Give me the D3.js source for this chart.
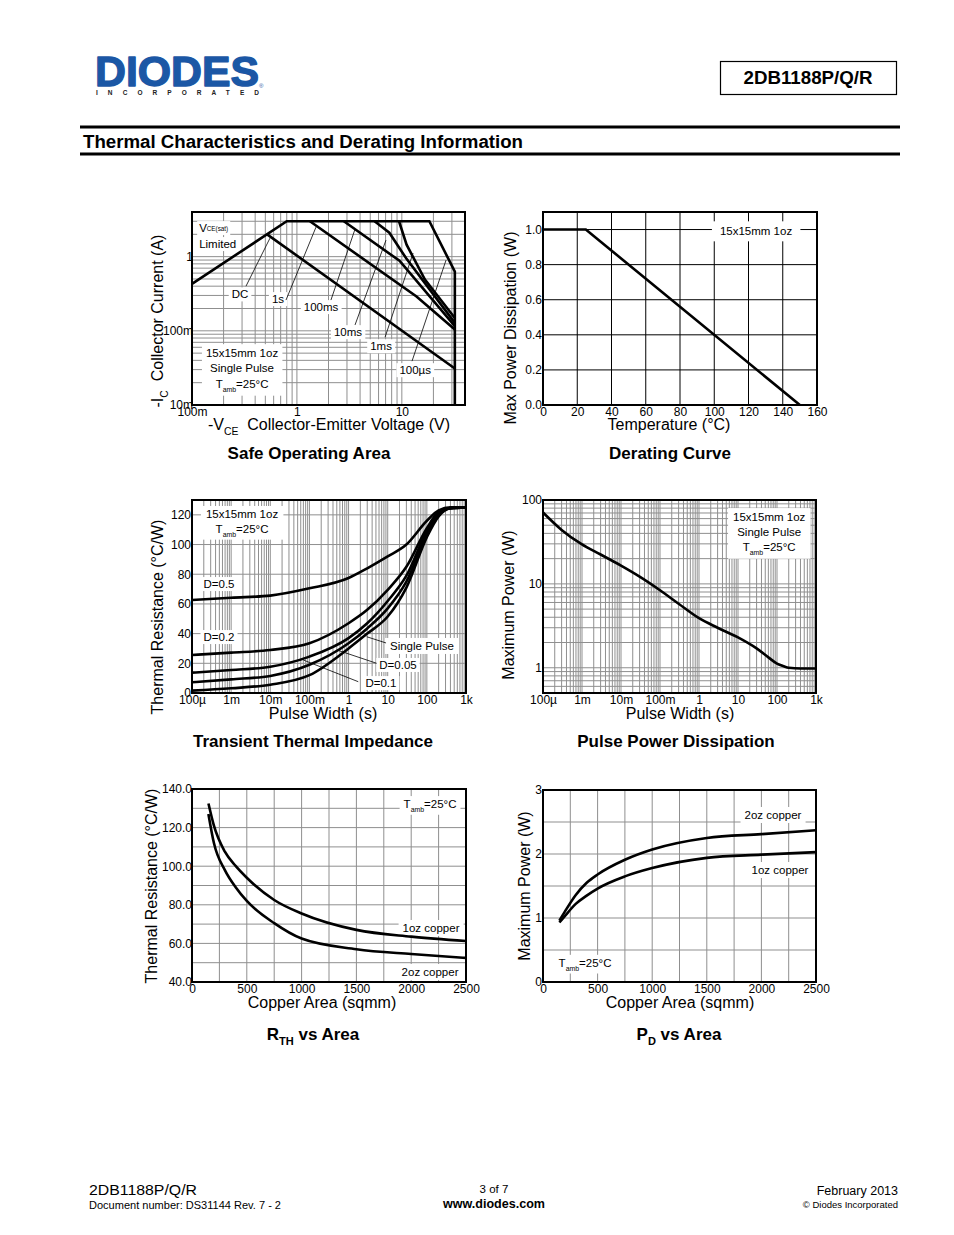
<!DOCTYPE html>
<html><head><meta charset="utf-8">
<script src="https://cdn.jsdelivr.net/npm/d3@7"></script>
<style>
body{margin:0;background:#fff;}
svg text{font-family:'Liberation Sans',Arial,Helvetica,sans-serif;}
</style></head><body>
<script>
// ---------------- DATA ----------------
// Safe Operating Area (V, A)
const soaXTickVals = [0.1, 1, 10];
const soaXTickLabels = ["100m", "1", "10"];
const soaYTickVals = [0.01, 0.1, 1];
const soaYTickLabels = ["10m", "100m", "1"];
const soaLimitV = [0.1, 0.8, 18.3, 32, 32];
const soaLimitI = [0.43, 3, 3, 0.63, 0.01];
const soaDcV = [0.52, 32];
const soaDcI = [2.0, 0.031];
const soa1sV = [1.33, 13.8, 32];
const soa1sI = [3, 0.29, 0.104];
const soa100msV = [2.8, 9.5, 32];
const soa100msI = [3, 0.88, 0.116];
const soa10msV = [5.5, 7.6, 11, 32];
const soa10msI = [3, 2.1, 0.95, 0.128];
const soa1msV = [9.4, 11.1, 16.6, 32];
const soa1msI = [3, 1.45, 0.49, 0.149];

// Derating curve
const derTickX = [0, 20, 40, 60, 80, 100, 120, 140, 160];
const derTickY = [0.0, 0.2, 0.4, 0.6, 0.8, 1.0];
const derTemp = [0, 25, 150];
const derPower = [1.0, 1.0, 0.0];

// Transient thermal impedance
const pwTickVals = [1e-4, 1e-3, 1e-2, 1e-1, 1, 10, 100, 1000];
const pwTickLabels = ["100\u00b5", "1m", "10m", "100m", "1", "10", "100", "1k"];
const ttiTickY = [0, 20, 40, 60, 80, 100, 120];
const ttiTime = [1e-4, 1e-3, 1e-2, 0.1, 1, 3, 10, 30, 100, 200, 400, 1000];
const ttiSingle = [1.6, 3.2, 5.6, 12, 30, 40, 51.5, 71, 105, 119, 124.5, 125];
const ttiD005 = [7.2, 9.2, 11.5, 19, 33.5, 43.5, 57, 75, 107, 120, 124.5, 125];
const ttiD01 = [13.7, 15.5, 17.7, 24.5, 37, 47, 62, 79, 109, 121, 124.5, 125];
const ttiD02 = [25.6, 27.2, 29, 33.5, 47, 56, 69.5, 85, 111, 122, 124.5, 125];
const ttiD05 = [62.6, 64.2, 65.6, 70.5, 77.5, 84, 92, 100, 116, 123, 125, 125];

// Pulse power dissipation
const ppYTickVals = [1, 10, 100];
const ppYTickLabels = ["1", "10", "100"];
const ppTime = [1e-4, 3e-4, 1e-3, 3e-3, 1e-2, 3e-2, 0.1, 0.3, 1, 3, 10, 30, 60, 100, 150, 200, 400, 1000];
const ppPower = [71, 44, 29.5, 22.4, 16.5, 12.2, 8.4, 5.8, 3.9, 3.0, 2.3, 1.7, 1.33, 1.12, 1.04, 1.0, 0.98, 0.98];

// R_TH vs area
const areaTicks = [0, 500, 1000, 1500, 2000, 2500];
const rthTickY = [40, 60, 80, 100, 120, 140];
const rthArea = [150, 200, 300, 400, 500, 750, 1000, 1500, 2000, 2500];
const rth1oz = [132.5, 121, 107.5, 100, 94, 82.5, 75.5, 67, 63.5, 61.2];
const rth2oz = [127, 112, 98, 89, 82, 70.5, 62.5, 57, 54.5, 52.5];

// P_D vs area
const pdTickY = [0, 1, 2, 3];
const pdArea = [150, 200, 300, 400, 500, 750, 1000, 1500, 2000, 2500];
const pd2oz = [0.96, 1.1, 1.36, 1.55, 1.68, 1.91, 2.07, 2.25, 2.31, 2.37];
const pd1oz = [0.93, 1.03, 1.22, 1.35, 1.46, 1.65, 1.78, 1.94, 1.99, 2.03];

// ---------------- HELPERS ----------------
const svg = d3.select("body").append("svg").attr("width", 954).attr("height", 1235);
svg.append("rect").attr("width", 954).attr("height", 1235).attr("fill", "#fff");

function addText(g, x, y, parts, o = {}) {
  const size = o.size || 12;
  const t = g.append("text").attr("x", x).attr("y", y).attr("font-size", size)
    .attr("text-anchor", o.anchor || "middle").attr("fill", o.fill || "#000");
  if (o.weight) t.attr("font-weight", o.weight);
  if (o.rotate) t.attr("transform", `rotate(${o.rotate},${x},${y})`);
  let shift = 0;
  (Array.isArray(parts) ? parts : [parts]).forEach(p => {
    if (typeof p === "string" || p.t !== undefined) {
      const ts = t.append("tspan").text(typeof p === "string" ? p : p.t);
      if (p.dx) ts.attr("dx", p.dx);
      if (shift) { ts.attr("dy", -shift); shift = 0; }
    } else {
      const d = p.dy != null ? p.dy : size * 0.32;
      const ts = t.append("tspan").text(p.sub).attr("font-size", size * (p.scale || 0.6)).attr("dy", d);
      if (p.dx) ts.attr("dx", p.dx);
      shift = d;
    }
  });
  return t;
}
function bgBox(g, texts, padX, padY) {
  const bbs = texts.map(t => t.node().getBBox());
  const x0 = d3.min(bbs, b => b.x) - padX, x1 = d3.max(bbs, b => b.x + b.width) + padX;
  const y0 = d3.min(bbs, b => b.y) - padY, y1 = d3.max(bbs, b => b.y + b.height) + padY;
  g.insert("rect", () => texts[0].node()).attr("x", x0).attr("y", y0)
    .attr("width", x1 - x0).attr("height", y1 - y0).attr("fill", "#fff");
}
function logGrid(lo, hi) {
  const out = [];
  for (let e = Math.floor(Math.log10(lo)); e <= Math.ceil(Math.log10(hi)); e++)
    for (let k = 1; k <= 9; k++) {
      const v = k * Math.pow(10, e);
      if (v >= lo * 0.999 && v <= hi * 1.001) out.push(v);
    }
  return out;
}
function grid(g, x, y, xs, ys, color, w) {
  const [x0, x1] = x.range(), [yb, yt] = y.range();
  const gg = g.append("g");
  gg.selectAll("line.v").data(xs).join("line").attr("class", "v")
    .attr("x1", d => x(d)).attr("x2", d => x(d)).attr("y1", yt).attr("y2", yb)
    .attr("stroke", color).attr("stroke-width", w);
  gg.selectAll("line.h").data(ys).join("line").attr("class", "h")
    .attr("x1", x0).attr("x2", x1).attr("y1", d => y(d)).attr("y2", d => y(d))
    .attr("stroke", color).attr("stroke-width", w);
}
function frame(g, x, y) {
  const [x0, x1] = x.range(), [yb, yt] = y.range();
  g.append("rect").attr("x", x0).attr("y", yt).attr("width", x1 - x0).attr("height", yb - yt)
    .attr("fill", "none").attr("stroke", "#000").attr("stroke-width", 2);
}
function axes(g, x, y, xv, xl, yv, yl, xpad, ypad, size) {
  const [yb] = y.range(), [x0] = x.range();
  const ax = g.append("g").attr("transform", `translate(0,${yb})`)
    .call(d3.axisBottom(x).tickValues(xv).tickFormat((d, i) => xl[i]).tickSize(0).tickPadding(xpad));
  const ay = g.append("g").attr("transform", `translate(${x0},0)`)
    .call(d3.axisLeft(y).tickValues(yv).tickFormat((d, i) => yl[i]).tickSize(0).tickPadding(ypad));
  [ax, ay].forEach(a => {
    a.select(".domain").remove();
    a.attr("font-family", null).attr("font-size", null);
    a.selectAll("text").attr("font-size", size || 12).attr("fill", "#000");
  });
}
function curve(g, x, y, xs, ys, w, smooth) {
  const ln = d3.line().x(d => x(d[0])).y(d => y(d[1]));
  if (smooth) ln.curve(d3.curveMonotoneX);
  g.append("path").datum(d3.zip(xs, ys)).attr("d", ln).attr("fill", "none")
    .attr("stroke", "#000").attr("stroke-width", w || 2.5).attr("stroke-linejoin", "miter");
}
function leader(g, x, y, a, b) {
  g.append("line").attr("x1", x(a[0])).attr("y1", y(a[1])).attr("x2", x(b[0])).attr("y2", y(b[1]))
    .attr("stroke", "#000").attr("stroke-width", 0.8);
}
function boxLabel(g, x, y, items, size, padX, padY, anchor) {
  const ts = items.map(it => addText(g, x(it[0]), y(it[1]) + size * 0.35, it[2], { size, anchor: anchor || "middle" }));
  bgBox(g, ts, padX, padY);
  return ts;
}
const fmt = v => String(v);

// ---------------- HEADER ----------------
addText(svg, 95, 86, "DIODES", { size: 43, anchor: "start", fill: "#1b57a5", weight: "bold" })
  .attr("textLength", 164).attr("lengthAdjust", "spacingAndGlyphs")
  .attr("stroke", "#1b57a5").attr("stroke-width", 1.4).attr("stroke-linejoin", "round");
addText(svg, 259, 88, "\u00ae", { size: 6, anchor: "start", fill: "#1b57a5" });
addText(svg, 96, 95, "INCORPORATED", { size: 6.5, anchor: "start", fill: "#222", weight: "bold" })
  .attr("textLength", 163).attr("lengthAdjust", "spacing");
svg.append("rect").attr("x", 720.5).attr("y", 61.5).attr("width", 176).attr("height", 33)
  .attr("fill", "none").attr("stroke", "#000").attr("stroke-width", 1.2);
addText(svg, 808, 84, "2DB1188P/Q/R", { size: 18, weight: "bold" })
  .attr("textLength", 129).attr("lengthAdjust", "spacingAndGlyphs");
svg.append("rect").attr("x", 80).attr("y", 125.5).attr("width", 820).attr("height", 3).attr("fill", "#000");
svg.append("rect").attr("x", 80).attr("y", 152.5).attr("width", 820).attr("height", 3).attr("fill", "#000");
addText(svg, 83, 147.5, "Thermal Characteristics and Derating Information", { size: 18, anchor: "start", weight: "bold" })
  .attr("textLength", 440).attr("lengthAdjust", "spacingAndGlyphs");

// ---------------- SOA ----------------
{
  const g = svg.append("g");
  const x = d3.scaleLog().domain([0.1, 40]).range([192, 465]);
  const y = d3.scaleLog().domain([0.01, 4]).range([405, 212]);
  grid(g, x, y, logGrid(0.1, 40), logGrid(0.01, 4), "#8f8f8f", 1);
  boxLabel(g, x, y, [[0.117, 2.43, ["V", { sub: "CE(sat)", dy: -1, scale: 0.55 }]]], 11.5, 2, 1, "start");
  boxLabel(g, x, y, [[0.117, 1.48, "Limited"]], 11.5, 2, 1, "start");
  boxLabel(g, x, y, [[0.3, 0.05, "15x15mm 1oz"], [0.3, 0.0315, "Single Pulse"],
    [0.3, 0.0192, ["T", { sub: "amb", scale: 0.6 }, "=25\u00b0C"]]], 11.5, 4, 3);
  boxLabel(g, x, y, [[0.287, 0.31, "DC"]], 11.5, 3, 1);
  boxLabel(g, x, y, [[0.66, 0.268, "1s"]], 11.5, 3, 1);
  boxLabel(g, x, y, [[1.7, 0.209, "100ms"]], 11.5, 3, 1);
  boxLabel(g, x, y, [[3.07, 0.096, "10ms"]], 11.5, 3, 1);
  boxLabel(g, x, y, [[6.34, 0.062, "1ms"]], 11.5, 3, 1);
  boxLabel(g, x, y, [[13.4, 0.0295, "100\u00b5s"]], 11.5, 3, 1);
  leader(g, x, y, [0.327, 0.40], [0.554, 1.78]);
  leader(g, x, y, [0.787, 0.26], [1.52, 2.5]);
  leader(g, x, y, [2.11, 0.26], [3.58, 2.35]);
  leader(g, x, y, [3.58, 0.12], [7.06, 1.67]);
  leader(g, x, y, [6.92, 0.082], [12.8, 1.12]);
  leader(g, x, y, [12.5, 0.039], [26.4, 0.9]);
  curve(g, x, y, soaLimitV, soaLimitI, 2.6);
  curve(g, x, y, soaDcV, soaDcI, 2.6);
  curve(g, x, y, soa1sV, soa1sI, 2.6);
  curve(g, x, y, soa100msV, soa100msI, 2.6);
  curve(g, x, y, soa10msV, soa10msI, 2.6);
  curve(g, x, y, soa1msV, soa1msI, 2.6);
  frame(g, x, y);
  axes(g, x, y, soaXTickVals, soaXTickLabels, soaYTickVals, soaYTickLabels, 2, -1, 12);
  addText(g, 163, 321, ["-I", { sub: "C", scale: 0.65, dy: 5 }, { t: "  Collector Current (A)" }], { size: 16, rotate: -90 }).style("white-space", "pre");
  addText(g, 329, 430, ["-V", { sub: "CE", scale: 0.65, dy: 5 }, { t: "  Collector-Emitter Voltage (V)" }], { size: 16 }).style("white-space", "pre");
  addText(g, 309, 459, "Safe Operating Area", { size: 17, weight: "bold" });
}

// ---------------- DERATING ----------------
{
  const g = svg.append("g");
  const x = d3.scaleLinear().domain([0, 160]).range([543, 817]);
  const y = d3.scaleLinear().domain([0, 1.1]).range([405, 212]);
  grid(g, x, y, derTickX, derTickY, "#000", 1);
  boxLabel(g, x, y, [[124.4, 0.99, "15x15mm 1oz"]], 11.5, 8, 4);
  curve(g, x, y, derTemp, derPower, 2.6);
  frame(g, x, y);
  axes(g, x, y, derTickX, derTickX.map(fmt), derTickY, derTickY.map(v => v.toFixed(1)), 2, 1, 12);
  addText(g, 516, 328, "Max Power Dissipation (W)", { size: 16, rotate: -90 });
  addText(g, 669, 430, "Temperature (\u00b0C)", { size: 16 });
  addText(g, 670, 459, "Derating Curve", { size: 17, weight: "bold" });
}

// ---------------- TRANSIENT ----------------
{
  const g = svg.append("g");
  const x = d3.scaleLog().domain([1e-4, 1e3]).range([192, 466]);
  const y = d3.scaleLinear().domain([0, 130]).range([693, 500]);
  grid(g, x, y, logGrid(1e-4, 1e3), ttiTickY, "#8f8f8f", 1);
  boxLabel(g, x, y, [[1.9e-3, 120.6, "15x15mm 1oz"], [1.9e-3, 110.5, ["T", { sub: "amb", scale: 0.6 }, "=25\u00b0C"]]], 11.5, 5, 2);
  boxLabel(g, x, y, [[4.9e-4, 73.4, "D=0.5"]], 11.5, 3, 1);
  boxLabel(g, x, y, [[4.9e-4, 37.7, "D=0.2"]], 11.5, 3, 1);
  boxLabel(g, x, y, [[75, 31.7, "Single Pulse"]], 11.5, 5, 2);
  boxLabel(g, x, y, [[18.3, 18.9, "D=0.05"]], 11.5, 3, 1);
  boxLabel(g, x, y, [[6.7, 6.7, "D=0.1"]], 11.5, 3, 1);
  leader(g, x, y, [2.9, 37.9], [9.06, 33.7]);
  leader(g, x, y, [0.5, 29], [5.2, 20]);
  leader(g, x, y, [0.07, 22.2], [1.77, 7.6]);
  [ttiSingle, ttiD005, ttiD01, ttiD02, ttiD05].forEach(s => curve(g, x, y, ttiTime, s, 2.6, true));
  frame(g, x, y);
  axes(g, x, y, pwTickVals, pwTickLabels, ttiTickY, ttiTickY.map(fmt), 2, 1, 12);
  addText(g, 163, 617, "Thermal Resistance (\u00b0C/W)", { size: 16, rotate: -90 });
  addText(g, 323, 719, "Pulse Width (s)", { size: 16 });
  addText(g, 313, 747, "Transient Thermal Impedance", { size: 17, weight: "bold" });
}

// ---------------- PULSE POWER ----------------
{
  const g = svg.append("g");
  const x = d3.scaleLog().domain([1e-4, 1e3]).range([543, 816]);
  const y = d3.scaleLog().domain([0.5, 100]).range([693, 500]);
  grid(g, x, y, logGrid(1e-4, 1e3), logGrid(0.5, 100), "#8f8f8f", 1);
  boxLabel(g, x, y, [[63, 62.6, "15x15mm 1oz"], [63, 41.5, "Single Pulse"],
    [63, 27.5, ["T", { sub: "amb", scale: 0.6 }, "=25\u00b0C"]]], 11.5, 5, 3);
  curve(g, x, y, ppTime, ppPower, 2.6, true);
  frame(g, x, y);
  axes(g, x, y, pwTickVals, pwTickLabels, ppYTickVals, ppYTickLabels, 2, 1, 12);
  addText(g, 514, 605, "Maximum Power (W)", { size: 16, rotate: -90 });
  addText(g, 680, 719, "Pulse Width (s)", { size: 16 });
  addText(g, 676, 747, "Pulse Power Dissipation", { size: 17, weight: "bold" });
}

// ---------------- RTH vs AREA ----------------
{
  const g = svg.append("g");
  const x = d3.scaleLinear().domain([0, 2500]).range([192, 466]);
  const y = d3.scaleLinear().domain([40, 140]).range([982, 789]);
  grid(g, x, y, d3.range(0, 2501, 250), d3.range(40, 141, 10), "#8f8f8f", 1);
  boxLabel(g, x, y, [[2172, 132.2, ["T", { sub: "amb", scale: 0.6 }, "=25\u00b0C"]]], 11.5, 4, 2);
  boxLabel(g, x, y, [[2181, 68, "1oz copper"]], 11.5, 4, 2);
  boxLabel(g, x, y, [[2172, 45.2, "2oz copper"]], 11.5, 4, 2);
  curve(g, x, y, rthArea, rth1oz, 2.6, true);
  curve(g, x, y, rthArea, rth2oz, 2.6, true);
  frame(g, x, y);
  axes(g, x, y, areaTicks, areaTicks.map(fmt), rthTickY, rthTickY.map(v => v.toFixed(1)), 2, 0, 12);
  addText(g, 157, 886, "Thermal Resistance (\u00b0C/W)", { size: 16, rotate: -90 });
  addText(g, 322, 1008, "Copper Area (sqmm)", { size: 16 });
  addText(g, 313, 1040, ["R", { sub: "TH", scale: 0.65, dy: 5 }, " vs Area"], { size: 17, weight: "bold" });
}

// ---------------- PD vs AREA ----------------
{
  const g = svg.append("g");
  const x = d3.scaleLinear().domain([0, 2500]).range([543, 816]);
  const y = d3.scaleLinear().domain([0, 3]).range([982, 790]);
  grid(g, x, y, d3.range(0, 2501, 250), d3.range(0, 3.01, 0.5), "#8f8f8f", 1);
  boxLabel(g, x, y, [[2106, 2.61, "2oz copper"]], 11.5, 4, 2);
  boxLabel(g, x, y, [[2170, 1.75, "1oz copper"]], 11.5, 4, 2);
  boxLabel(g, x, y, [[385, 0.3, ["T", { sub: "amb", scale: 0.6 }, "=25\u00b0C"]]], 11.5, 4, 2);
  curve(g, x, y, pdArea, pd2oz, 2.6, true);
  curve(g, x, y, pdArea, pd1oz, 2.6, true);
  frame(g, x, y);
  axes(g, x, y, areaTicks, areaTicks.map(fmt), pdTickY, pdTickY.map(fmt), 2, 1, 12);
  addText(g, 530, 886, "Maximum Power (W)", { size: 16, rotate: -90 });
  addText(g, 680, 1008, "Copper Area (sqmm)", { size: 16 });
  addText(g, 679, 1040, ["P", { sub: "D", scale: 0.65, dy: 5 }, " vs Area"], { size: 17, weight: "bold" });
}

// ---------------- FOOTER ----------------
addText(svg, 89, 1195, "2DB1188P/Q/R", { size: 14, anchor: "start" })
  .attr("textLength", 108).attr("lengthAdjust", "spacingAndGlyphs");
addText(svg, 89, 1209, "Document number: DS31144 Rev. 7 - 2", { size: 10.5, anchor: "start" })
  .attr("textLength", 192).attr("lengthAdjust", "spacingAndGlyphs");
addText(svg, 494, 1193, "3 of 7", { size: 11.5 });
addText(svg, 494, 1208, "www.diodes.com", { size: 12, weight: "bold" })
  .attr("textLength", 102).attr("lengthAdjust", "spacingAndGlyphs");
addText(svg, 898, 1195, "February 2013", { size: 12.5, anchor: "end" });
addText(svg, 898, 1208, "\u00a9 Diodes Incorporated", { size: 9.5, anchor: "end" });
</script></body></html>
